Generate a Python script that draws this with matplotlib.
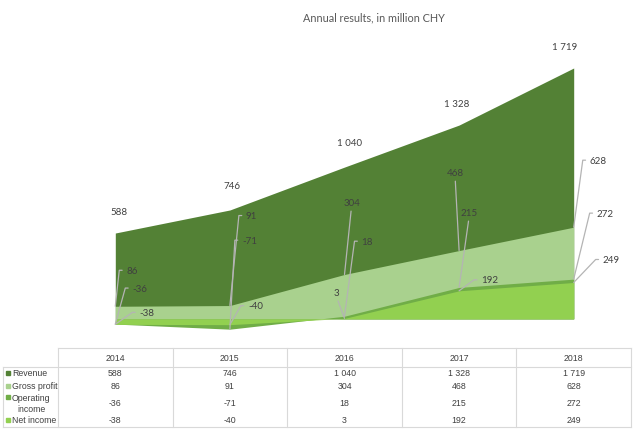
import numpy as np
import matplotlib.pyplot as plt

years = ['2014', '2015', '2016', '2017', '2018']
revenue = [588, 746, 1040, 1328, 1719]
gross_profit = [86, 91, 304, 468, 628]
operating_income = [-36, -71, 18, 215, 272]
net_income = [-38, -40, 3, 192, 249]

series_names = ['Revenue', 'Gross profit', 'Operating\nincome', 'Net income']
series_values = [revenue, gross_profit, operating_income, net_income]
colors = ['#538135', '#a9d18e', '#70ad47', '#92d050']

# label offsets in pixels (dx, dy) and style: 'top' = centered, no leader,
# 'hook' = leader with short horizontal end, 'stem' = leader to text bottom
label_style = [
    [('top', 4, 22), ('top', 2, 24), ('top', 5, 25), ('top', -2, 22), ('top', -9, 22)],
    [('hook', 11, 36), ('hook', 16, 90), ('stem', 7, 72), ('stem', -4, 78), ('hook', 16, 67)],
    [('hook', 17, 36), ('hook', 12, 89), ('hook', 17, 75), ('stem', 10, 75), ('hook', 23, 66)],
    [('hook', 24, 12), ('hook', 18, 19), ('stem', -8, 26), ('hook', 22, 11), ('hook', 29, 23)],
]

def fmt(v):
    return f"{v:,}".replace(',', ' ')

W, H = 640, 435
fig = plt.figure(figsize=(6.4, 4.35), dpi=100)
ax = fig.add_axes([58 / W, 1 - 349 / H, (631 - 58) / W, (349 - 28) / H])

x = np.arange(len(years))
for vals, c in zip(series_values, colors):
    ax.fill_between(x, 0, vals, color=c, lw=0)

ax.set_xlim(-0.5, len(years) - 0.5)
ax.set_ylim(-200, 2000)
ax.axis('off')

txt_color = '#404040'
line_color = '#b4b4b4'
lab = dict(fontsize=7, color=txt_color, family='Lato', textcoords='offset pixels', va='center')
for vals, styles in zip(series_values, label_style):
    for xi, v, (kind, dx, dy) in zip(x, vals, styles):
        if kind == 'top':
            ax.annotate(fmt(v), (xi, v), xytext=(dx, dy), ha='center', **lab)
        elif kind == 'stem':
            ax.annotate(fmt(v), (xi, v), xytext=(dx, dy), ha='center', **lab,
                        arrowprops=dict(arrowstyle='-', color=line_color, lw=0.9,
                                        relpos=(0.5, 0), shrinkA=1, shrinkB=0))
        else:
            ang = np.degrees(np.arctan2(dy, dx - 7))
            ax.annotate(fmt(v), (xi, v), xytext=(dx, dy), ha='left', **lab,
                        arrowprops=dict(arrowstyle='-', color=line_color, lw=0.9,
                                        relpos=(0, 0.5), shrinkA=1, shrinkB=0,
                                        connectionstyle=f'angle,angleA=0,angleB={ang:.1f},rad=0'))

fig.text(374 / W, 1 - 18 / H, 'Annual results, in million CHY', ha='center', va='center',
         fontsize=7.8, color='#595959', family='Lato')

# data table
tab = fig.add_axes([58 / W, 0, (631 - 58) / W, 95 / H])
tab.set_xlim(-0.5, len(years) - 0.5)
tab.set_ylim(435, 340)
tab.axis('off')

def px2x(px):
    return (px - 58) / 114.6 - 0.5

grid = '#d9d9d9'
left = px2x(3)
right = len(years) - 0.5
kw = dict(color=grid, lw=0.8, clip_on=False)
tab.plot([-0.5, right], [349, 349], **kw)
tab.plot([left, right], [368, 368], **kw)
tab.plot([left, right], [428, 428], **kw)
tab.plot([left, left], [368, 428], **kw)
for b in np.arange(-0.5, len(years), 1.0):
    tab.plot([b, b], [349, 428], **kw)

tcol = '#404040'
tfont = dict(fontsize=6.3, color=tcol, family='Liberation Sans', va='center')
row_y = [374, 387, 404, 421]
for xi, yr in zip(x, years):
    tab.text(xi, 358.5, yr, ha='center', **tfont)
for name, vals, c, ry in zip(series_names, series_values, colors, row_y):
    sq_y = ry - 6 if '\n' in name else ry
    tab.plot(px2x(8), sq_y, marker='s', ms=3.2, color=c, clip_on=False)
    if '\n' in name:
        tab.text(px2x(31), ry, name, ha='center', multialignment='center',
                 linespacing=1.3, **tfont)
    else:
        tab.text(px2x(12), ry, name, ha='left', **tfont)
    for xi, v in zip(x, vals):
        tab.text(xi, ry, fmt(v), ha='center', **tfont)

fig.savefig('out.png', dpi=100)
